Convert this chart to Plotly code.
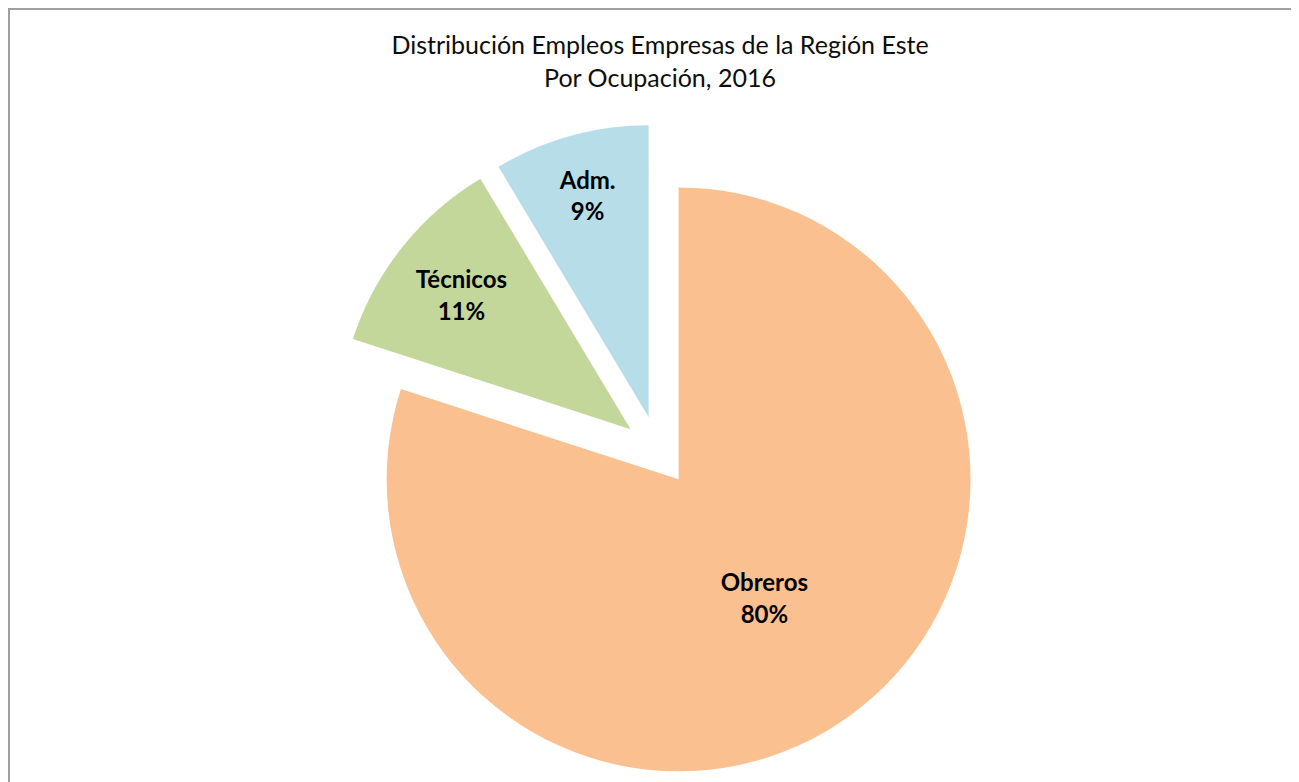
import plotly.graph_objects as go

# Data
categories = ["Obreros", "Técnicos", "Adm."]
values = [80.0, 11.4, 8.6]
colors = ["#FAC090", "#C4D79B", "#B7DEE8"]

title_lines = ["Distribución Empleos Empresas de la Región Este", "Por Ocupación, 2016"]

# the page body adds an 8px margin, so the figure fills the rest of the window
W, H = 1291, 774

fig = go.Figure()
fig.add_trace(go.Pie(
    labels=categories,
    values=values,
    sort=False,
    direction="clockwise",
    rotation=0,
    pull=[0.12, 0.12, 0.12],
    marker=dict(colors=colors, line=dict(width=0)),
    texttemplate="<b>%{label}</b><br><b>%{percent:.0%}</b>",
    textposition="inside",
    insidetextorientation="horizontal",
    textfont=dict(family="Lato, Calibri, sans-serif", size=24, color="#000000"),
    showlegend=False,
    hoverinfo="label+percent",
    domain=dict(x=[323 / W, 977 / W], y=[1 - 770 / H, 1 - 116 / H]),
))

fig.update_layout(
    width=W,
    height=H,
    margin=dict(l=0, r=0, t=0, b=0),
    paper_bgcolor="#FFFFFF",
    plot_bgcolor="#FFFFFF",
    title=dict(
        text="<br>".join(title_lines),
        x=652 / W,
        xanchor="center",
        y=1 - 46 / H,
        yanchor="top",
        font=dict(family="Lato, Calibri, sans-serif", size=25, color="#0D0D0D"),
    ),
    shapes=[dict(
        type="rect", xref="paper", yref="paper",
        x0=1 / W, x1=1.05, y0=-0.05, y1=1 - 1 / H,
        line=dict(color="#A0A0A0", width=2),
        fillcolor="rgba(0,0,0,0)",
        layer="below",
    )],
)

fig.write_html("out.html")
